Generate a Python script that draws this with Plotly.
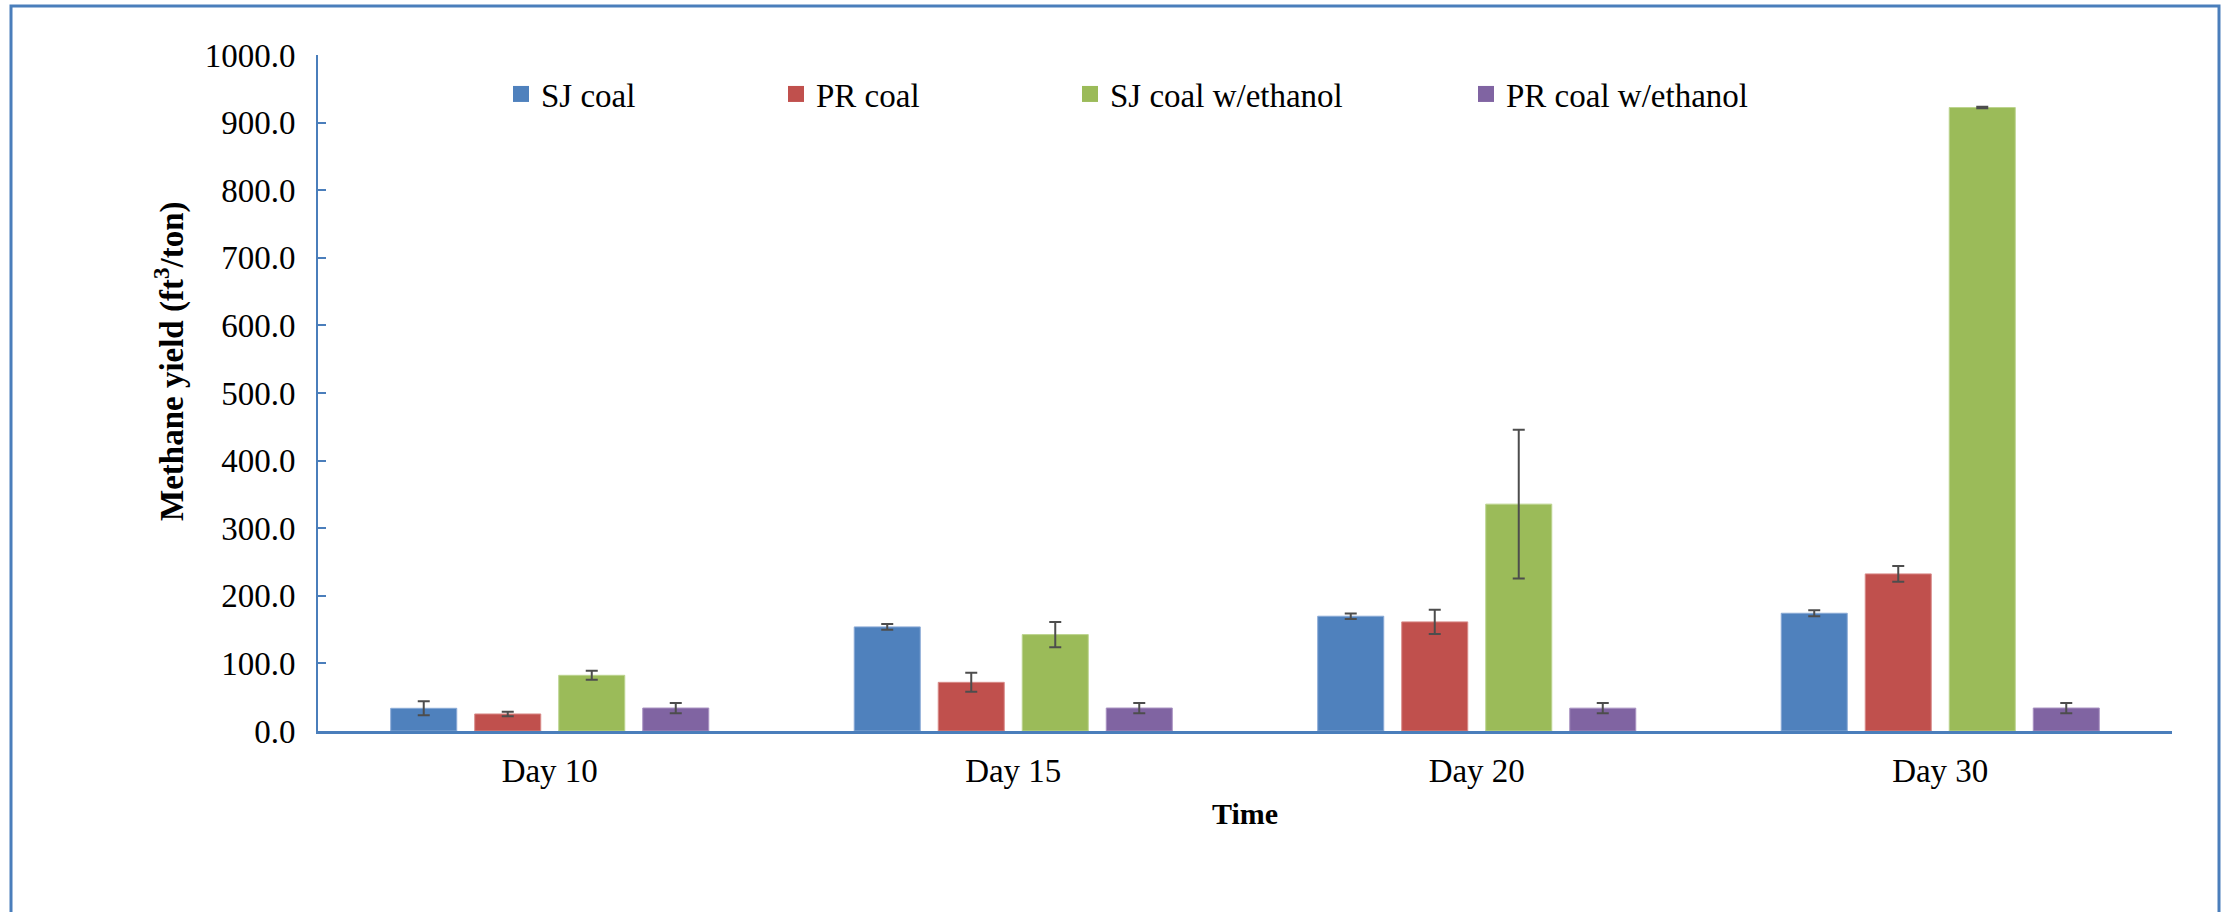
import plotly.graph_objects as go

categories = ["Day 10", "Day 15", "Day 20", "Day 30"]
series_names = ["SJ coal", "PR coal", "SJ coal w/ethanol", "PR coal w/ethanol"]
sj_coal = [33.6, 154.0, 169.8, 174.2]
pr_coal = [25.2, 72.0, 161.4, 232.4]
sj_coal_eth = [82.4, 142.6, 335.6, 922.3]
pr_coal_eth = [34.0, 34.0, 33.8, 34.0]
sj_coal_err = [10.4, 4.4, 4.2, 4.4]
pr_coal_err = [3.2, 14.0, 17.8, 11.8]
sj_coal_eth_err = [6.7, 18.7, 110.0, 1.0]
pr_coal_eth_err = [7.6, 7.6, 7.6, 7.6]
y_ticks = [0, 100, 200, 300, 400, 500, 600, 700, 800, 900, 1000]

colors = ["#4F81BD", "#C0504D", "#9BBB59", "#8064A2"]
edge_colors = ["#8AAAD6", "#D98B89", "#BCD48F", "#A992C2"]
values = [sj_coal, pr_coal, sj_coal_eth, pr_coal_eth]
errors = [sj_coal_err, pr_coal_err, sj_coal_eth_err, pr_coal_eth_err]
legend_ids = ["legend", "legend2", "legend3", "legend4"]

FONT = "Liberation Serif, Times New Roman, serif"
AXIS_BLUE = "#4A7EBB"
REG = 33

fig = go.Figure()
for name, vals, errs, col, ecol in zip(series_names, values, errors, colors, edge_colors):
    fig.add_trace(go.Bar(
        x=categories, y=vals, name=name, showlegend=False,
        marker=dict(color=col, line=dict(color=ecol, width=1)),
        error_y=dict(type="data", array=errs, visible=True, color="#4D4D4D", thickness=2, width=6),
    ))
# legend swatches (square markers like the reference legend)
for name, col, lid in zip(series_names, colors, legend_ids):
    fig.add_trace(go.Scatter(
        x=[None], y=[None], mode="markers", name=name, legend=lid,
        marker=dict(symbol="square", size=16, color=col),
    ))

plot_l, plot_r_px, plot_t, plot_b = 318, 2172, 55, 731
W, H = 2231, 912
pw = plot_r_px - plot_l
ph = plot_b - plot_t

def px_x(x):
    return (x - plot_l) / pw

def px_y(y):
    return (plot_b - y) / ph

legend_font = dict(family=FONT, size=REG, color="black")
legend_centers = [520, 795, 1089, 1485]
legend_layouts = {}
for lid, cx in zip(legend_ids, legend_centers):
    legend_layouts[lid] = dict(
        x=px_x(cx - 19), y=px_y(94), xanchor="left", yanchor="middle",
        font=legend_font, bgcolor="rgba(0,0,0,0)", orientation="h",
        itemsizing="trace",
    )

fig.update_layout(
    width=W, height=H,
    margin=dict(l=plot_l, r=W - plot_r_px, t=plot_t, b=H - plot_b, pad=0),
    paper_bgcolor="white", plot_bgcolor="white",
    barmode="group", bargap=0.275, bargroupgap=0.214,
    font=dict(family=FONT, size=REG, color="black"),
    showlegend=True,
    **legend_layouts,
)

fig.update_yaxes(
    range=[0, 1000], tickvals=y_ticks, tickformat=".1f",
    showgrid=False, zeroline=False, automargin=False,
    showline=True, linecolor=AXIS_BLUE, linewidth=2,
    ticks="inside", ticklen=8, tickcolor=AXIS_BLUE, tickwidth=2,
    ticklabelstandoff=14,
    tickfont=dict(family=FONT, size=REG, color="black"),
)
fig.update_xaxes(
    showgrid=False, zeroline=False, automargin=False,
    showline=True, linecolor=AXIS_BLUE, linewidth=3,
    ticks="", ticklabelstandoff=8,
    tickfont=dict(family=FONT, size=REG, color="black"),
)

fig.add_annotation(
    text="<b>Methane yield (ft<sup>3</sup>/ton)</b>", xref="paper", yref="paper",
    x=px_x(169), y=px_y(361), textangle=-90, showarrow=False,
    font=dict(family=FONT, size=33, color="black"), xanchor="center", yanchor="middle",
)
fig.add_annotation(
    text="<b>Time</b>", xref="paper", yref="paper",
    x=px_x(1245), y=px_y(814), showarrow=False,
    font=dict(family=FONT, size=30, color="black"), xanchor="center", yanchor="middle",
)

fig.add_shape(
    type="rect", xref="paper", yref="paper",
    x0=px_x(11), x1=px_x(2219), y0=px_y(930), y1=px_y(6),
    line=dict(color=AXIS_BLUE, width=3), fillcolor="rgba(0,0,0,0)", layer="below",
)

fig.write_html(
    "out.html",
    config={"displayModeBar": False},
    post_script="document.body.style.margin='0';document.body.style.overflow='hidden';",
)
